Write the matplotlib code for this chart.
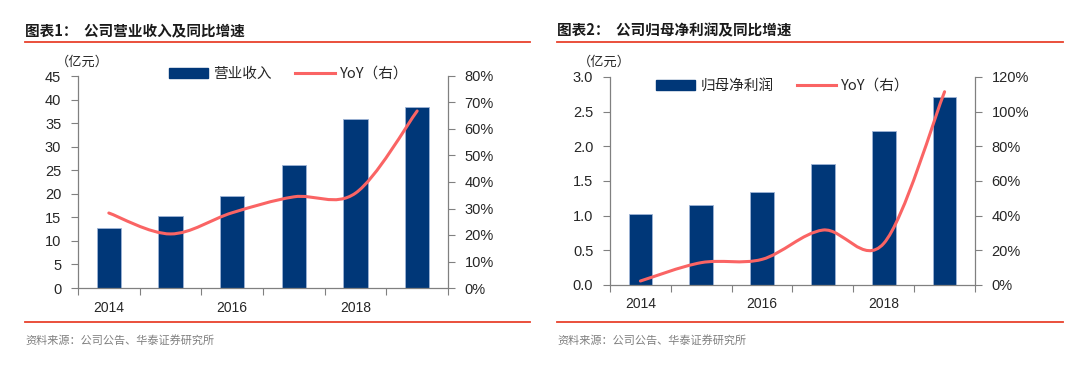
import matplotlib
matplotlib.use("Agg")
import matplotlib.pyplot as plt
from matplotlib.path import Path
from matplotlib.patches import PathPatch, Patch
from matplotlib.lines import Line2D
import numpy as np

plt.rcParams['font.family'] = ['Liberation Sans', 'Noto Sans CJK SC', 'DejaVu Sans']

years = ["2014", "2015", "2016", "2017", "2018", "2019"]
year_labels = ["2014", "", "2016", "", "2018", ""]

revenue = [12.7, 15.2, 19.5, 26.2, 35.9, 38.5]
revenue_yoy = [28.3, 20.4, 28.4, 34.4, 35.8, 66.8]

profit = [1.02, 1.15, 1.34, 1.75, 2.22, 2.71]
profit_yoy = [2.3, 12.9, 14.8, 31.7, 24.0, 111.5]

BAR = "#003778"
LINE = "#FA6464"
RED = "#E8412C"
AX = "#808080"
TXT = "#262626"
CJK = ['Noto Sans CJK SC', 'Liberation Sans']


def smooth_path(xs, ys):
    pts = np.column_stack([xs, ys]).astype(float)
    n = len(pts)
    verts = [pts[0]]
    codes = [Path.MOVETO]
    for i in range(n - 1):
        p0 = pts[i - 1] if i > 0 else pts[i]
        p1 = pts[i]
        p2 = pts[i + 1]
        p3 = pts[i + 2] if i + 2 < n else pts[i + 1]
        c1 = p1 + (p2 - p0) / 6.0
        c2 = p2 - (p3 - p1) / 6.0
        verts += [c1, c2, p2]
        codes += [Path.CURVE4] * 3
    return Path(verts, codes)


fig = plt.figure(figsize=(10.8, 3.74), dpi=100)


def px(x, y):
    return (x / 1080.0, 1 - y / 374.0)


def panel(rect, vals, yoy, ymax, ystep, yfmt, pmax, pstep, title, tx, line_x, name,
          leg_xy, unit_xy):
    ax = fig.add_axes(rect)
    x = np.arange(len(vals))
    ax.bar(x, vals, width=0.39, color=BAR, edgecolor="#9db4d6", linewidth=0.6, zorder=2)
    ax.set_xlim(-0.5, len(vals) - 0.5)
    ax.set_ylim(0, ymax)
    ax.set_yticks(np.arange(0, ymax + ystep / 2, ystep))
    ax.set_yticklabels([yfmt.format(v) for v in np.arange(0, ymax + ystep / 2, ystep)])
    ax.set_xticks(np.arange(-0.5, len(vals)), minor=False)
    ax.set_xticklabels([])
    ax.set_xticks(x, minor=True)
    ax.set_xticklabels(year_labels, minor=True)
    ax.tick_params(axis='x', which='major', length=5, width=0.8, color=AX, direction='out')
    ax.tick_params(axis='x', which='minor', length=0, pad=9, labelsize=10, labelcolor=TXT)
    ax.tick_params(axis='y', length=5, width=0.8, color=AX, pad=7, labelsize=10.5, labelcolor=TXT)
    ax.spines['top'].set_visible(False)
    ax.spines['right'].set_visible(False)
    for s in ('left', 'bottom'):
        ax.spines[s].set_color(AX)
        ax.spines[s].set_linewidth(0.9)

    ax2 = ax.twinx()
    ax2.set_ylim(0, pmax)
    ax2.set_yticks(np.arange(0, pmax + pstep / 2, pstep))
    ax2.set_yticklabels(["{:.0f}%".format(v) for v in np.arange(0, pmax + pstep / 2, pstep)])
    ax2.tick_params(axis='y', length=5, width=0.8, color=AX, pad=7, labelsize=10.5, labelcolor=TXT)
    for s in ('top', 'left', 'bottom'):
        ax2.spines[s].set_visible(False)
    ax2.spines['right'].set_color(AX)
    ax2.spines['right'].set_linewidth(0.9)
    ax2.add_patch(PathPatch(smooth_path(x, yoy), facecolor='none', edgecolor=LINE,
                            linewidth=2.2, capstyle='round', zorder=3))

    handles = [Patch(facecolor=BAR, edgecolor=BAR),
               Line2D([0], [0], color=LINE, linewidth=2.2)]
    leg = fig.legend(handles, [name, "YoY（右）"], ncol=2, frameon=False,
                     loc='center left', bbox_to_anchor=px(*leg_xy),
                     borderpad=0, borderaxespad=0, handlelength=2.7, handleheight=0.75,
                     handletextpad=0.35, columnspacing=1.6,
                     prop={'family': CJK, 'size': 10.5})
    for t in leg.get_texts():
        t.set_color(TXT)

    fig.text(*px(*unit_xy), "（亿元）", family=CJK, fontsize=9.5, color=TXT,
             ha='left', va='center')
    fig.text(*px(tx, 30), title, family=CJK, fontsize=10.5, fontweight='bold',
             color="#1a1a1a", ha='left', va='center')
    fig.add_artist(Line2D([line_x[0] / 1080, line_x[1] / 1080], [1 - 42 / 374] * 2,
                          color=RED, linewidth=1.3, transform=fig.transFigure))
    fig.add_artist(Line2D([line_x[0] / 1080, line_x[1] / 1080], [1 - 322 / 374] * 2,
                          color=RED, linewidth=1.3, transform=fig.transFigure))
    fig.text(*px(tx, 340), "资料来源：公司公告、华泰证券研究所", family=CJK, fontsize=8,
             color="#7f7f7f", ha='left', va='center')
    return ax


panel([78 / 1080, 1 - 288 / 374, 370 / 1080, 212 / 374], revenue, revenue_yoy,
      45, 5, "{:.0f}", 80, 10, "图表1：  公司营业收入及同比增速", 25, (25, 530), "营业收入",
      (169, 74), (56, 62))
panel([610 / 1080, 1 - 285 / 374, 365 / 1080, 208 / 374], profit, profit_yoy,
      3.0, 0.5, "{:.1f}", 120, 20, "图表2：  公司归母净利润及同比增速", 557, (557, 1063), "归母净利润",
      (656, 86), (578, 62))

fig.savefig("out.png", dpi=100)
